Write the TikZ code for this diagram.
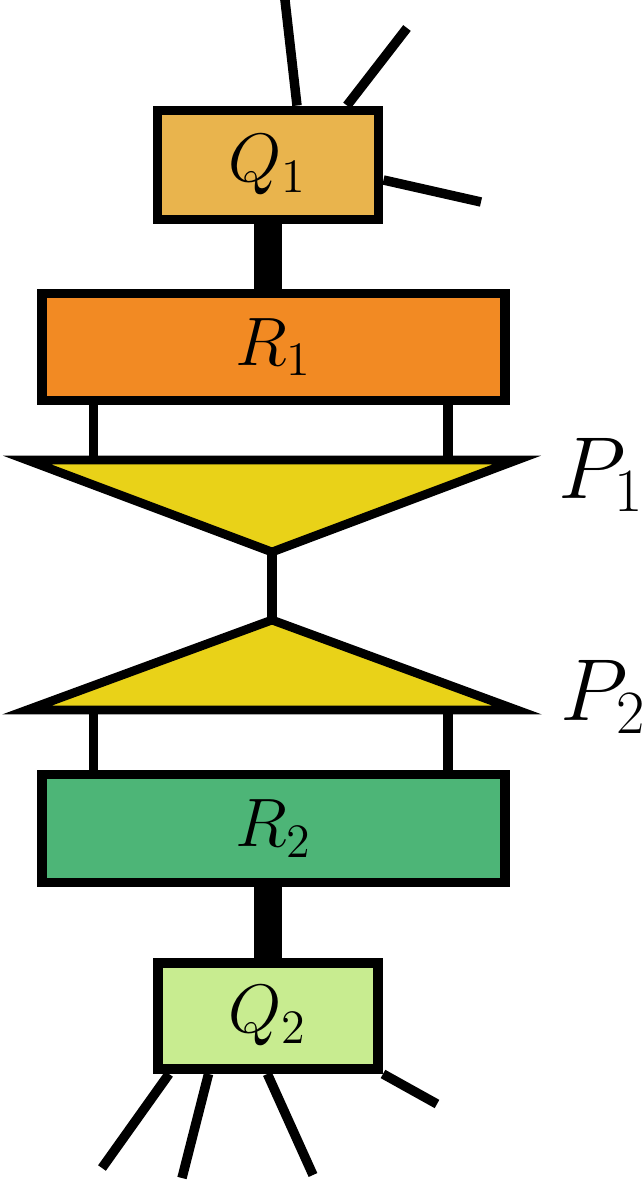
\documentclass[tikz,border=0pt]{standalone}
\usepackage{fix-cm}
\definecolor{qoneorange}{RGB}{233,180,77}
\definecolor{roneorange}{RGB}{242,138,35}
\definecolor{pyellow}{RGB}{233,210,24}
\definecolor{rtwogreen}{RGB}{77,181,119}
\definecolor{qtwogreen}{RGB}{200,236,144}
\begin{document}
\begin{tikzpicture}[x=0.01cm,y=-0.01cm,line width=2.7pt,line join=miter,line cap=butt,
	box/.style={draw,line width=2.8pt,inner sep=0pt,font=\fontsize{19.5}{22}\selectfont},
	bond/.style={line width=8.2pt},
	tri/.style={draw,fill=pyellow,line width=2.5pt},
	plabel/.style={anchor=west,inner sep=0pt,font=\fontsize{25}{29}\selectfont}]
	\useasboundingbox (0,0) rectangle (643,1184);
	\node[box,fill=qoneorange,minimum width=2.21cm,minimum height=1.09cm] (Q1) at (268,165) {$Q_1$};
	\node[box,fill=roneorange,minimum width=4.62cm,minimum height=1.07cm] (R1) at (273.5,347) {$R_1$};
	\node[box,fill=rtwogreen,minimum width=4.62cm,minimum height=1.08cm] (R2) at (273.5,828.5) {$R_2$};
	\node[box,fill=qtwogreen,minimum width=2.20cm,minimum height=1.06cm] (Q2) at (268,1016) {$Q_2$};
	\coordinate (t1) at (284.4,-5); \coordinate (t2) at (407,28); \coordinate (t3) at (481,202);
	\draw (Q1.north -| 297,0) -- (t1);
	\draw (Q1.north -| 347,0) -- (t2);
	\draw (Q1.east |- 0,180) -- (t3);
	\draw[bond] (Q1.south) -- (Q1.south |- R1.north);
	\foreach \x in {93.5,448} \draw (R1.south -| \x,0) -- (\x,460);
	\draw[tri] (27,460) coordinate (P1a) -- (517,460) coordinate (P1b) -- (272,552) coordinate (P1c) -- cycle;
	\node[plabel] (P1) at (554,475) {$P_1$};
	\draw[tri] (27,710) coordinate (P2a) -- (517,710) coordinate (P2b) -- (272,620) coordinate (P2c) -- cycle;
	\node[plabel] (P2) at (556,697) {$P_2$};
	\draw (P1c) -- (P2c);
	\foreach \x in {93.5,448} \draw (\x,710) -- (R2.north -| \x,0);
	\draw[bond] (R2.south -| Q2.north) -- (Q2.north);
	\coordinate (b1) at (102,1168); \coordinate (b2) at (182,1178);
	\coordinate (b3) at (313,1175); \coordinate (b4) at (437,1104);
	\draw (Q2.south -| 169,0) -- (b1);
	\draw (Q2.south -| 208.5,0) -- (b2);
	\draw (Q2.south -| 267.4,0) -- (b3);
	\draw (Q2.south east) -- (b4);
\end{tikzpicture}
\end{document}
